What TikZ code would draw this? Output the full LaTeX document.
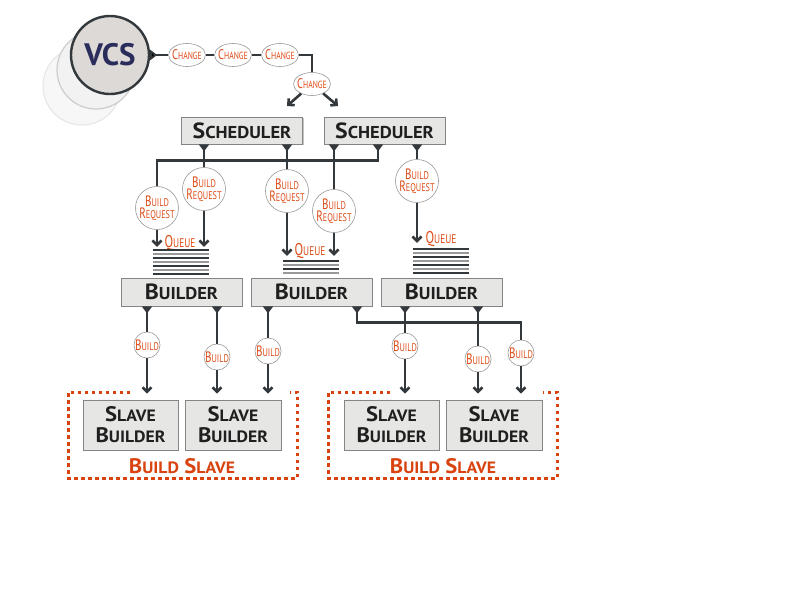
\documentclass[tikz,border=0pt]{standalone}
\usepackage{fontspec}
\setmainfont{PT Sans}
\usetikzlibrary{arrows.meta,shapes.geometric,shadows}

\definecolor{linegray}{HTML}{33383C}
\definecolor{boxfill}{HTML}{E6E7E4}
\definecolor{boxline}{HTML}{858585}
\definecolor{labelorange}{HTML}{DE4C18}
\definecolor{slavered}{HTML}{D8430F}
\definecolor{vcsblue}{HTML}{2A2C5C}
\definecolor{vcsfill}{HTML}{DCD9D6}

\newcommand{\fsc}[2]{#1\scalebox{0.74}{#2}}
\newcommand{\bsc}[2]{\scalebox{1.08}[1]{#1\scalebox{0.78}{#2}}}
\newcommand{\narrow}[1]{\scalebox{0.74}[1]{#1}}
\newcommand{\chg}{\makebox[18pt]{\narrow{\fsc{C}{HANGE}}}}

\tikzset{
  box/.style={draw=boxline, fill=boxfill, line width=0.8, inner sep=0, text=black!88,
    drop shadow={shadow xshift=1.4pt, shadow yshift=-1.4pt, opacity=0.45},
    font=\bfseries\fontsize{22}{24}\selectfont},
  sched/.style={box, minimum width=121, minimum height=27},
  builder/.style={box, minimum width=121, minimum height=28},
  slavebox/.style={box, minimum width=95, minimum height=50, align=center,
    font=\bfseries\fontsize{21}{21}\selectfont},
  bubble/.style={draw=gray!80, fill=white, line width=0.6, inner sep=0,
    text=labelorange, align=center, font=\fontsize{15}{12}\selectfont},
  request/.style={bubble, circle, minimum size=40},
  buildbub/.style={bubble, circle, minimum size=25},
  change/.style={bubble, ellipse, minimum width=37, minimum height=23,
    font=\fontsize{14}{12}\selectfont},
  queue/.style={minimum width=56, inner sep=0},
  qlabel/.style={text=labelorange, inner sep=0, font=\fontsize{17}{18}\selectfont},
  slavelabel/.style={text=slavered, inner sep=0, font=\bfseries\fontsize{21}{22}\selectfont},
  conn/.style={draw=linegray, line width=2.6},
  tipstart/.style={{Triangle[reversed, width=10pt, length=7pt]}-},
  arrow/.style={conn, -{Straight Barb[length=4.5pt, width=9pt]}},
  qline/.style={line width=2},
  slaveframe/.style={draw=slavered, line width=3, dash pattern=on 3.5pt off 3.5pt}
}

\begin{document}
\begin{tikzpicture}[x=1pt, y=-1pt]
	\fill[white] (0,0) rectangle (800,600);
	\useasboundingbox (0,0) rectangle (800,600);

	\node[circle, minimum size=78, fill=gray!6, draw=gray!20, line width=1] (vcsback) at (82,86) {};
	\node[circle, minimum size=78, fill=gray!10, draw=gray!40, line width=1.2] (vcsmid) at (96,70) {};
	\node[circle, minimum size=78, fill=vcsfill, draw=linegray, line width=2.4,
	  text=vcsblue, font=\bfseries\fontsize{31}{34}\selectfont] (vcs) at (110,55) {VCS};

	\node[change] (ch1) at (187,55) {\chg};
	\node[change] (ch2) at (233,55) {\chg};
	\node[change] (ch3) at (280,55) {\chg};
	\node[change] (ch4) at (312,84) {\chg};
	\coordinate (schedin1) at (287,106);
	\coordinate (schedin2) at (338,106);

	\node[sched] (sched1) at (242,130.5) {\bsc{S}{CHEDULER}};
	\node[sched] (sched2) at (384.5,130.5) {\bsc{S}{CHEDULER}};

	\node[request] (br1) at (157,208) {\narrow{\fsc{B}{UILD}}\\\narrow{\fsc{R}{EQUEST}}};
	\node[request] (br2) at (204,189) {\narrow{\fsc{B}{UILD}}\\\narrow{\fsc{R}{EQUEST}}};
	\node[request] (br3) at (287,191) {\narrow{\fsc{B}{UILD}}\\\narrow{\fsc{R}{EQUEST}}};
	\node[request] (br4) at (334,211) {\narrow{\fsc{B}{UILD}}\\\narrow{\fsc{R}{EQUEST}}};
	\node[request] (br5) at (417,181) {\narrow{\fsc{B}{UILD}}\\\narrow{\fsc{R}{EQUEST}}};

	\node[queue, minimum height=26] (queue1) at (181,262) {};
	\node[queue, minimum height=14] (queue2) at (311,267) {};
	\node[queue, minimum height=26] (queue3) at (441,261) {};
	\node[qlabel] (qlabel1) at (180,243) {\narrow{\fsc{Q}{UEUE}}};
	\node[qlabel] (qlabel2) at (310,251) {\narrow{\fsc{Q}{UEUE}}};
	\node[qlabel] (qlabel3) at (441,239) {\narrow{\fsc{Q}{UEUE}}};

	\foreach \q/\n in {queue1/6, queue2/3, queue3/6}
	  \foreach \k in {0,...,\n} {
	    \pgfmathparse{int(mod(\k,2))}
	    \ifnum\pgfmathresult=0 \def\qc{linegray}\else\def\qc{gray!80}\fi
	    \draw[qline, draw=\qc] ([yshift={-1-4*\k}]\q.north west) -- ([yshift={-1-4*\k}]\q.north east);
	  }

	\node[builder] (bld1) at (181.5,292) {\bsc{B}{UILDER}};
	\node[builder] (bld2) at (311.5,292) {\bsc{B}{UILDER}};
	\node[builder] (bld3) at (441.5,292) {\bsc{B}{UILDER}};

	\node[buildbub] (bu1) at (147,345) {\narrow{\fsc{B}{UILD}}};
	\node[buildbub] (bu2) at (217,357) {\narrow{\fsc{B}{UILD}}};
	\node[buildbub] (bu3) at (268,351) {\narrow{\fsc{B}{UILD}}};
	\node[buildbub] (bu4) at (405,346) {\narrow{\fsc{B}{UILD}}};
	\node[buildbub] (bu5) at (478,359) {\narrow{\fsc{B}{UILD}}};
	\node[buildbub] (bu6) at (521,353) {\narrow{\fsc{B}{UILD}}};

	\node[slavebox] (sb1) at (130.5,425) {\bsc{S}{LAVE}\\\bsc{B}{UILDER}};
	\node[slavebox, minimum width=96] (sb2) at (233,425) {\bsc{S}{LAVE}\\\bsc{B}{UILDER}};
	\node[slavebox] (sb3) at (391.5,425) {\bsc{S}{LAVE}\\\bsc{B}{UILDER}};
	\node[slavebox, minimum width=96] (sb4) at (494,425) {\bsc{S}{LAVE}\\\bsc{B}{UILDER}};
	\node[slavelabel] (bs1) at (182,466) {\bsc{B}{UILD} \bsc{S}{LAVE}};
	\node[slavelabel] (bs2) at (443,466) {\bsc{B}{UILD} \bsc{S}{LAVE}};

	\draw[slaveframe] (130,392) -- (68,392) -- (68,478) -- (297,478) -- (297,392) -- (290,392);
	\draw[slaveframe] (390,392) -- (328,392) -- (328,478) -- (557,478) -- (557,392) -- (543,392);

	\path [conn, tipstart] (vcs) edge (ch1);
	\draw [conn] (ch1) -- (ch2);
	\draw [conn] (ch2) -- (ch3);
	\draw [conn] (ch3) -| (ch4);
	\draw [arrow] (ch4) -- (schedin1);
	\draw [arrow] (ch4) -- (schedin2);

	\draw [conn, tipstart] ([xshift=-6.5]sched2.south) -- ++(0,16) -| (br1);
	\draw [conn, tipstart] (sched1.south -| br2) -- (br2);
	\draw [conn, tipstart] (sched1.south -| br3) -- (br3);
	\draw [conn, tipstart] (sched2.south -| br4) -- (br4);
	\draw [conn, tipstart] (sched2.south -| br5) -- (br5);
	\draw [arrow, shorten >=2] (br1) -- (br1 |- queue1.north);
	\draw [arrow, shorten >=2] (br2) -- (br2 |- queue1.north);
	\draw [arrow, shorten >=4] (br3) -- (br3 |- queue2.north);
	\draw [arrow, shorten >=4] (br4) -- (br4 |- queue2.north);
	\draw [arrow, shorten >=5] (br5) -- (br5 |- queue3.north);

	\draw [conn, tipstart] (bld1.south -| bu1) -- (bu1);
	\draw [conn, tipstart] (bld1.south -| bu2) -- (bu2);
	\draw [conn, tipstart] (bld2.south -| bu3) -- (bu3);
	\draw [conn, tipstart] (bld3.south -| bu4) -- (bu4);
	\draw [conn, tipstart] (bld3.south -| bu5) -- (bu5);
	\draw [conn, tipstart] ([xshift=45.5]bld2.south) -- ++(0,16) -| (bu6);
	\draw [arrow, shorten >=6] (bu1) -- (bu1 |- sb1.north);
	\draw [arrow, shorten >=6] (bu2) -- (bu2 |- sb2.north);
	\draw [arrow, shorten >=6] (bu3) -- (bu3 |- sb2.north);
	\draw [arrow, shorten >=6] (bu4) -- (bu4 |- sb3.north);
	\draw [arrow, shorten >=6] (bu5) -- (bu5 |- sb4.north);
	\draw [arrow, shorten >=6] (bu6) -- (bu6 |- sb4.north);
\end{tikzpicture}
\end{document}
